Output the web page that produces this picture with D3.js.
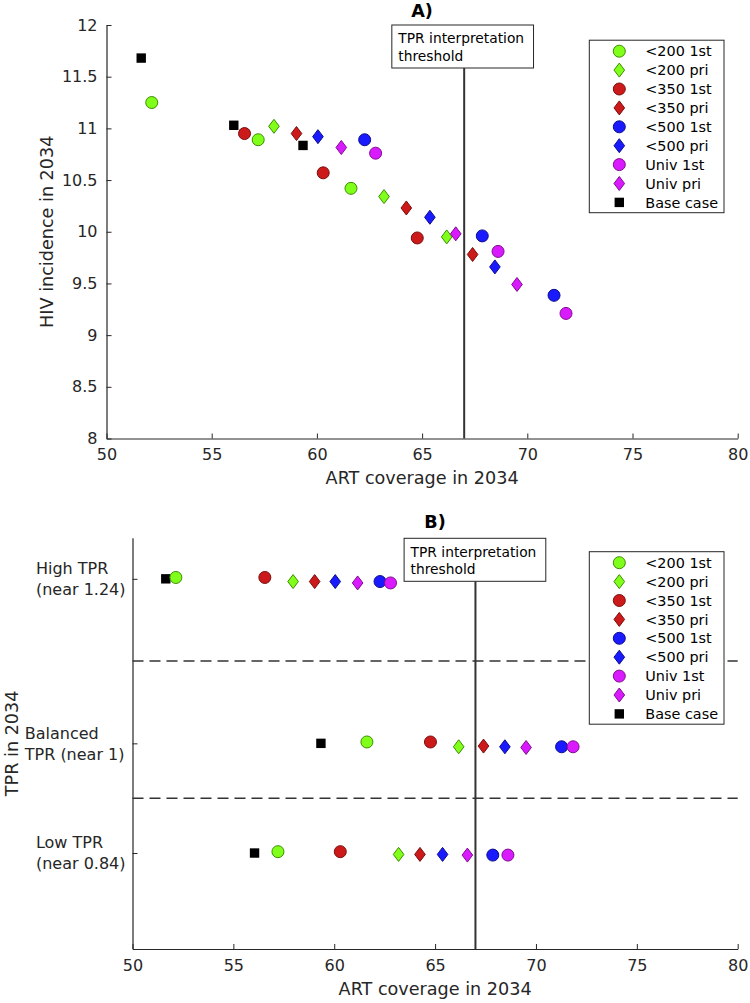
<!DOCTYPE html>
<html>
<head>
<meta charset="utf-8">
<script src="https://cdn.jsdelivr.net/npm/d3@7"></script>
<style>
  html, body { margin: 0; padding: 0; background: #fff; }
  svg { display: block; font-family: "DejaVu Sans", sans-serif; }
</style>
</head>
<body>
<svg id="chart" width="750" height="1003"></svg>
<script>
// ---------- DATA ----------
const seriesNames = ["<200 1st", "<200 pri", "<350 1st", "<350 pri", "<500 1st", "<500 pri", "Univ 1st", "Univ pri", "Base case"];
const seriesShapes = ["circle", "diamond", "circle", "diamond", "circle", "diamond", "circle", "diamond", "square"];
const seriesFill = ["#80ff1a", "#80ff1a", "#cc1a1a", "#cc1a1a", "#1a1aff", "#1a1aff", "#d91aff", "#d91aff", "#000000"];
const seriesEdge = ["#3d8c00", "#3d8c00", "#7a0d0d", "#7a0d0d", "#0d0d8c", "#0d0d8c", "#800d8c", "#800d8c", "#000000"];

const scenarioNames = ["High TPR", "Balanced TPR", "Low TPR"];
const scenarioLabels = [["High TPR", "(near 1.24)"], ["Balanced", "TPR (near 1)"], ["Low TPR", "(near 0.84)"]];
const scenarioTPRTicks = [1.24, 1.0, 0.84];

// ART coverage in 2034 (order follows seriesNames)
const coverageHigh     = [52.15, 57.96, 56.56, 59.03, 62.27, 60.05, 62.79, 61.16, 51.65];
const coverageBalanced = [61.62, 66.17, 64.77, 67.40, 71.27, 68.46, 71.84, 69.51, 59.34];
const coverageLow      = [57.21, 63.19, 60.30, 64.25, 67.86, 65.37, 68.61, 66.60, 56.05];

// HIV incidence in 2034
const incidenceHigh     = [11.25, 11.02, 10.95, 10.95, 10.89, 10.92, 10.76, 10.815, 11.68];
const incidenceBalanced = [10.42, 9.95, 9.94, 9.78, 9.385, 9.66, 9.21, 9.49, 10.835];
const incidenceLow      = [10.89, 10.34, 10.57, 10.23, 9.96, 10.14, 9.81, 9.98, 11.03];

// TPR in 2034
const tprHigh     = [1.242, 1.236, 1.242, 1.236, 1.236, 1.236, 1.234, 1.234, 1.240];
const tprBalanced = [1.002, 0.995, 1.002, 0.996, 0.995, 0.995, 0.995, 0.994, 1.000];
const tprLow      = [0.842, 0.838, 0.842, 0.838, 0.837, 0.838, 0.837, 0.837, 0.840];

const xTicks = [50, 55, 60, 65, 70, 75, 80];
const yTicksA = [8, 8.5, 9, 9.5, 10, 10.5, 11, 11.5, 12];
const tprDividers = [1.12, 0.92];
const thresholdCoverage = 67;

// ---------- HELPERS ----------
const svg = d3.select("#chart");
const AX = "#262626";

const coverage = [coverageHigh, coverageBalanced, coverageLow];
const incidence = [incidenceHigh, incidenceBalanced, incidenceLow];
const tpr = [tprHigh, tprBalanced, tprLow];

function markerPath(shape) {
  if (shape === "circle") return "M6,0A6,6 0 1,1 -6,0A6,6 0 1,1 6,0Z";
  if (shape === "diamond") return "M0,-7L5.3,0L0,7L-5.3,0Z";
  return "M-4.7,-4.7H4.7V4.7H-4.7Z";
}

function drawMarker(g, i, x, y) {
  g.append("path")
    .attr("d", markerPath(seriesShapes[i]))
    .attr("transform", `translate(${x},${y})`)
    .attr("fill", seriesFill[i])
    .attr("stroke", seriesShapes[i] === "square" ? "none" : seriesEdge[i])
    .attr("stroke-width", 1);
}

function drawPoints(g, xs, ys) {
  // base case drawn first, then the series in legend order
  const order = [8, 0, 1, 2, 3, 4, 5, 6, 7];
  for (let s = 0; s < 3; s++) {
    order.forEach(i => drawMarker(g, i, xs(coverage[s][i]), ys(s, i)));
  }
}

function drawLegend(g, x0, y0) {
  const w = 134.7, h = 172.5;
  g.append("rect").attr("x", x0).attr("y", y0).attr("width", w).attr("height", h)
    .attr("fill", "#fff").attr("stroke", AX).attr("stroke-width", 1);
  seriesNames.forEach((n, i) => {
    const cy = y0 + 11 + i * 18.9;
    drawMarker(g, i, x0 + 30, cy);
    g.append("text").attr("x", x0 + 56).attr("y", cy).attr("dy", "0.36em")
      .attr("font-size", 14.4).attr("fill", "#000").text(n);
  });
}

function drawTextBox(g, cx, y0) {
  const w = 141.7, h = 43;
  const x0 = cx - w / 2;
  g.append("rect").attr("x", x0).attr("y", y0).attr("width", w).attr("height", h)
    .attr("fill", "#fff").attr("stroke", AX).attr("stroke-width", 1);
  ["TPR interpretation", "threshold"].forEach((t, k) => {
    g.append("text").attr("x", x0 + 6.5).attr("y", y0 + 13.5 + k * 17.5).attr("dy", "0.36em")
      .attr("font-size", 13.8).attr("fill", "#000").text(t);
  });
  return y0 + h;
}

// ---------- PANEL A ----------
{
  const L = 106.5, R = 737.7, T = 25, B = 438.5;
  const x = d3.scaleLinear().domain([50, 80]).range([L, R]);
  const y = d3.scaleLinear().domain([8, 12]).range([B, T]);
  const g = svg.append("g");

  const xAxis = g.append("g").attr("transform", `translate(0,${B})`)
    .call(d3.axisBottom(x).tickValues(xTicks).tickFormat(d3.format("d")).tickSizeInner(-5).tickSizeOuter(0).tickPadding(10));
  const yAxis = g.append("g").attr("transform", `translate(${L},0)`)
    .call(d3.axisLeft(y).tickValues(yTicksA).tickFormat(d => d3.format("")(d)).tickSizeInner(-5).tickSizeOuter(0).tickPadding(9));
  [xAxis, yAxis].forEach(a => {
    a.select(".domain").attr("stroke", AX).attr("stroke-width", 1.2);
    a.selectAll(".tick line").attr("stroke", AX);
    a.selectAll(".tick text").attr("fill", AX).attr("font-size", 16).attr("font-family", "DejaVu Sans");
  });

  g.append("text").attr("x", (L + R) / 2).attr("y", 478).attr("dy", "0.36em").attr("text-anchor", "middle")
    .attr("font-size", 17.6).attr("fill", AX).text("ART coverage in 2034");
  g.append("text").attr("transform", `translate(47,${(T + B) / 2}) rotate(-90)`).attr("dy", "0.36em")
    .attr("text-anchor", "middle").attr("font-size", 17.6).attr("fill", AX).text("HIV incidence in 2034");
  g.append("text").attr("x", (L + R) / 2).attr("y", 11).attr("dy", "0.36em").attr("text-anchor", "middle")
    .attr("font-size", 17.6).attr("font-weight", "bold").attr("fill", "#000").text("A)");

  drawPoints(g, x, (s, i) => y(incidence[s][i]));

  const boxBottom = drawTextBox(g, x(thresholdCoverage) - 1.5, T);
  g.append("line").attr("x1", x(thresholdCoverage)).attr("x2", x(thresholdCoverage))
    .attr("y1", boxBottom).attr("y2", B).attr("stroke", "#333").attr("stroke-width", 2);

  drawLegend(g, 589.3, 40.2);
}

// ---------- PANEL B ----------
{
  const L = 132.5, R = 737.7, T = 537.7, B = 949;
  const x = d3.scaleLinear().domain([50, 80]).range([L, R]);
  const y = d3.scaleLinear().domain([0.7, 1.3]).range([B, T]);
  const g = svg.append("g");

  const xAxis = g.append("g").attr("transform", `translate(0,${B})`)
    .call(d3.axisBottom(x).tickValues(xTicks).tickFormat(d3.format("d")).tickSizeInner(-5).tickSizeOuter(0).tickPadding(11));
  const yAxis = g.append("g").attr("transform", `translate(${L},0)`)
    .call(d3.axisLeft(y).tickValues(scenarioTPRTicks).tickFormat("").tickSizeInner(-5).tickSizeOuter(0));
  [xAxis, yAxis].forEach(a => {
    a.select(".domain").attr("stroke", AX).attr("stroke-width", 1.2);
    a.selectAll(".tick line").attr("stroke", AX);
    a.selectAll(".tick text").attr("fill", AX).attr("font-size", 16).attr("font-family", "DejaVu Sans");
  });

  // two-line category labels, left-aligned block ending near the axis
  scenarioLabels.forEach((lines, s) => {
    const t = g.append("text").attr("font-size", 16).attr("fill", AX);
    lines.forEach((ln, k) => {
      t.append("tspan").attr("x", 0).attr("y", y(scenarioTPRTicks[s]) + (k - 0.5) * 21).attr("dy", "0.36em").text(ln);
    });
    const bw = t.node().getBBox().width;
    t.attr("transform", `translate(${L - 7 - bw},0)`);
  });

  g.append("text").attr("x", (L + R) / 2).attr("y", 989).attr("dy", "0.36em").attr("text-anchor", "middle")
    .attr("font-size", 17.6).attr("fill", AX).text("ART coverage in 2034");
  g.append("text").attr("transform", `translate(12,${(T + B) / 2}) rotate(-90)`).attr("dy", "0.36em")
    .attr("text-anchor", "middle").attr("font-size", 17.6).attr("fill", AX).text("TPR in 2034");
  g.append("text").attr("x", (L + R) / 2).attr("y", 522).attr("dy", "0.36em").attr("text-anchor", "middle")
    .attr("font-size", 17.6).attr("font-weight", "bold").attr("fill", "#000").text("B)");

  tprDividers.forEach(v => {
    g.append("line").attr("x1", L).attr("x2", R).attr("y1", y(v)).attr("y2", y(v))
      .attr("stroke", "#333").attr("stroke-width", 1.5).attr("stroke-dasharray", "11,6");
  });

  const boxBottom = drawTextBox(g, x(thresholdCoverage) - 0.5, 538.3);
  g.append("line").attr("x1", x(thresholdCoverage)).attr("x2", x(thresholdCoverage))
    .attr("y1", boxBottom).attr("y2", B).attr("stroke", "#333").attr("stroke-width", 2);

  drawPoints(g, x, (s, i) => y(tpr[s][i]));

  drawLegend(g, 589.3, 551.7);
}
</script>
</body>
</html>
